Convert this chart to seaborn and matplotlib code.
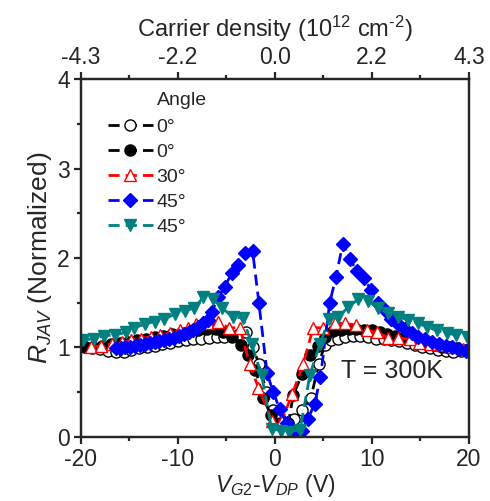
import numpy as np
import pandas as pd
import seaborn as sns
import matplotlib
matplotlib.use("Agg")
import matplotlib.pyplot as plt
from matplotlib.ticker import MultipleLocator

# 0 deg, open circles
v_open = [-19.6, -18.8, -18.0, -17.2, -16.4, -15.6, -14.8, -14.0, -13.2, -12.4, -11.6, -10.8,
          -10.0, -9.2, -8.4, -7.6, -6.8, -6.0, -5.2, -4.4, -3.7, -3.0, -2.3, -1.6, -0.9, -0.2,
          0.5, 1.2, 2.0, 2.8, 3.7, 4.5, 5.15, 5.8, 6.5, 7.2, 8.0, 8.8, 9.6, 10.4, 11.2, 12.0,
          12.8, 13.6, 14.4, 15.2, 16.0, 16.8, 17.6, 18.4, 19.2, 19.9]
r_open = [1.0, 0.99, 0.98, 0.96, 0.95, 0.95, 0.97, 0.99, 1.01, 1.02, 1.04, 1.05,
          1.07, 1.08, 1.09, 1.1, 1.11, 1.12, 1.12, 1.13, 1.15, 1.17, 1.0, 0.81, 0.5, 0.3,
          0.2, 0.15, 0.2, 0.3, 0.43, 0.81, 1.03, 1.08, 1.1, 1.12, 1.13, 1.13, 1.12, 1.1, 1.09, 1.08,
          1.07, 1.05, 1.03, 1.01, 0.99, 0.97, 0.96, 0.95, 0.96, 0.97]

# 0 deg, filled circles
v_fill = [-19.6, -18.7, -17.8, -16.9, -16.0, -15.1, -14.2, -13.3, -12.4, -11.5, -10.6, -9.7,
          -8.8, -7.9, -7.0, -6.1, -5.3, -4.4, -3.5, -2.75, -2.0, -1.2, -0.4, 0.5, 1.4, 1.9,
          2.8, 3.6, 4.4, 5.2, 6.0, 6.8, 7.6, 8.4, 9.2, 10.0, 10.8, 11.6, 12.4, 13.2, 14.0,
          14.8, 15.6, 16.4, 17.2, 18.0, 18.8, 19.6]
r_fill = [1.0, 1.0, 1.02, 1.04, 1.05, 1.06, 1.08, 1.1, 1.12, 1.13, 1.15, 1.16,
          1.18, 1.2, 1.21, 1.21, 1.17, 1.12, 1.03, 0.91, 0.75, 0.44, 0.24, 0.15, 0.16, 0.47,
          0.7, 0.91, 1.02, 1.12, 1.18, 1.2, 1.21, 1.21, 1.2, 1.19, 1.17, 1.15, 1.13, 1.11, 1.09,
          1.07, 1.05, 1.03, 1.01, 1.0, 0.99, 0.97]

# 30 deg, open triangles
v_30 = [-19.0, -17.9, -16.8, -15.8, -14.8, -13.8, -12.8, -11.8, -10.8, -9.8, -9.0, -8.1,
        -6.9, -5.85, -4.7, -3.6, -2.6, -1.7, -0.3, 0.7, 1.8, 2.9, 3.95, 5.0, 6.2, 7.2,
        8.35, 9.45, 10.5, 11.7, 12.7, 13.9, 14.9, 16.0, 17.2, 18.3, 19.4]
r_30 = [1.0, 1.02, 1.04, 1.06, 1.08, 1.1, 1.12, 1.14, 1.16, 1.19, 1.22, 1.26,
        1.27, 1.28, 1.22, 1.22, 0.81, 0.55, 0.18, 0.18, 0.48, 0.81, 1.22, 1.22, 1.27, 1.27,
        1.25, 1.19, 1.17, 1.11, 1.11, 1.09, 1.05, 1.04, 1.03, 1.01, 0.98]

# 45 deg, filled diamonds
v_45a = [-16.4, -15.9, -15.4, -14.9, -14.4, -13.9, -13.4, -12.9, -12.4, -11.9, -11.4, -10.9,
         -10.4, -9.9, -9.4, -8.9, -8.4, -7.9, -7.4, -6.9, -6.5, -5.85, -5.15, -4.46, -3.78,
         -3.1, -2.3, -1.65, -0.8, -0.17, 0.5, 1.2, 2.0, 2.75, 3.4, 4.1, 4.7, 5.65, 6.3, 7.0,
         7.7, 8.5, 9.2, 9.9, 10.6, 11.3, 12.0, 12.7, 13.4, 14.1, 14.8, 15.5, 16.2, 16.9,
         17.6, 18.3, 19.0, 19.7]
r_45a = [0.99, 0.99, 1.0, 1.01, 1.02, 1.03, 1.04, 1.05, 1.06, 1.07, 1.08, 1.1,
         1.11, 1.13, 1.15, 1.17, 1.2, 1.23, 1.27, 1.31, 1.4, 1.56, 1.68, 1.83, 1.92,
         2.06, 2.08, 1.5, 0.71, 0.5, 0.31, 0.15, 0.05, 0.07, 0.2, 0.37, 0.67, 1.5, 1.79, 2.16,
         1.99, 1.85, 1.78, 1.64, 1.5, 1.42, 1.32, 1.26, 1.21, 1.16, 1.12, 1.09, 1.06, 1.04,
         1.02, 1.0, 0.98, 0.96]

# 45 deg, filled down triangles
v_45b = [-19.8, -18.6, -17.6, -16.5, -15.3, -14.5, -13.4, -12.4, -11.4, -10.3, -9.3, -8.3,
         -7.4, -6.4, -5.4, -4.36, -3.3, -2.4, -1.37, -0.34, 0.6, 1.5, 2.6, 3.6, 4.64, 5.6,
         6.5, 7.56, 8.6, 9.6, 10.6, 11.7, 12.7, 13.7, 14.7, 15.7, 16.7, 17.7, 18.7, 19.8]
r_45b = [1.08, 1.1, 1.13, 1.14, 1.17, 1.22, 1.26, 1.29, 1.32, 1.37, 1.41, 1.44,
         1.56, 1.54, 1.44, 1.34, 1.33, 1.04, 0.69, 0.09, 0.07, 0.06, 0.08, 0.69, 1.04, 1.32,
         1.34, 1.45, 1.54, 1.52, 1.44, 1.38, 1.34, 1.31, 1.27, 1.23, 1.19, 1.16, 1.14, 1.12]

density_ticks = [-20, -10, 0, 10, 20]
density_labels = ["-4.3", "-2.2", "0.0", "2.2", "4.3"]

sns.set_style("ticks")
plt.rcParams["font.family"] = ["Liberation Sans", "DejaVu Sans"]
plt.rcParams["mathtext.fontset"] = "custom"
plt.rcParams["mathtext.rm"] = "Liberation Sans"
plt.rcParams["mathtext.it"] = "Liberation Sans:italic"
plt.rcParams["axes.unicode_minus"] = False

fig = plt.figure(figsize=(4.9, 5.01), dpi=100)
ax = fig.add_axes([0.165, 0.128, 0.792, 0.714])

series = [
    (v_open, r_open, "0°", "black", "o", "white", 8),
    (v_fill, r_fill, "0°", "black", "o", "black", 8),
    (v_30, r_30, "30°", "#FF0000", "^", "white", 9),
    (v_45a, r_45a, "45°", "#0000FF", "D", "#0000FF", 7.5),
    (v_45b, r_45b, "45°", "#008080", "v", "#008080", 9),
]
for v, r, lab, col, mk, face, ms in series:
    df = pd.DataFrame({"V": v, "R": r})
    sns.lineplot(data=df, x="V", y="R", ax=ax, estimator=None, color=col, label=lab,
                 marker=mk, markersize=ms, mfc=face, mec=col, mew=1.0,
                 lw=2.0, dashes=(4, 2.2))

ax.set_xlim(-20, 20)
ax.set_ylim(0, 4)
ax.set_xticks([-20, -10, 0, 10, 20])
ax.set_yticks([0, 1, 2, 3, 4])
ax.xaxis.set_minor_locator(MultipleLocator(5))
ax.yaxis.set_minor_locator(MultipleLocator(0.5))
for s in ax.spines.values():
    s.set_linewidth(1.6)
ax.tick_params(which="major", direction="out", length=5, width=1.6, labelsize=16.5, pad=3)
ax.tick_params(which="minor", direction="out", length=3, width=1.6)

ax.set_xlabel("$V_{G2}$-$V_{DP}$ (V)", fontsize=16.5, labelpad=1)
ax.set_ylabel("$R_{JAV}$ (Normalized)", fontsize=19, labelpad=2)

top = ax.twiny()
top.set_xlim(ax.get_xlim())
top.set_xticks(density_ticks)
top.set_xticklabels(density_labels)
top.xaxis.set_minor_locator(MultipleLocator(5))
top.tick_params(which="major", direction="out", length=5, width=1.6, labelsize=16.5, pad=2)
top.tick_params(which="minor", direction="out", length=3, width=1.6)
top.set_xlabel(r"Carrier density (10$^{12}$ cm$^{\text{-}2}$)", fontsize=17, labelpad=7)
for s in top.spines.values():
    s.set_linewidth(1.6)

leg = ax.legend(loc="upper left", bbox_to_anchor=(0.05, 0.912), frameon=False,
                fontsize=14, handlelength=2.3, handletextpad=0.2, labelspacing=0.38,
                borderaxespad=0)
ax.text(0.195, 0.965, "Angle", transform=ax.transAxes, fontsize=14, va="top", ha="left")
ax.text(6.8, 0.74, "T = 300K", fontsize=18, va="center", ha="left")

fig.savefig("out.png", dpi=100)
